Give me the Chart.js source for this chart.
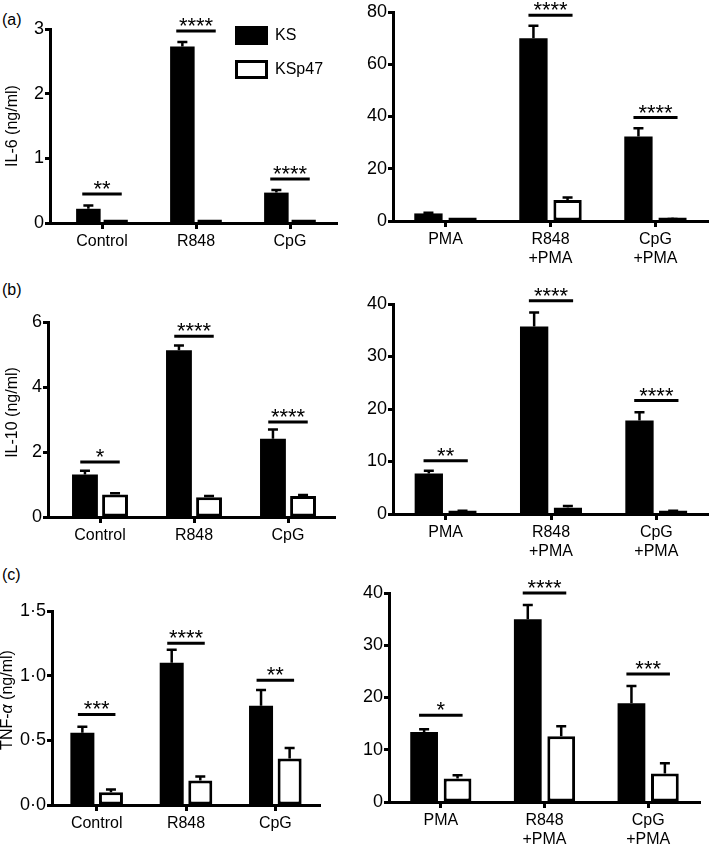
<!DOCTYPE html>
<html>
<head>
<meta charset="utf-8">
<script src="https://cdn.jsdelivr.net/npm/chart.js@4.4.1/dist/chart.umd.min.js"></script>
<style>
  html, body { margin: 0; padding: 0; background: #fff; overflow: hidden; }
  #fig { position: relative; width: 709px; height: 849px; overflow: hidden; }
  #fig canvas { position: absolute; }
  .tag { position: absolute; left: 2px; font: 16px 'Liberation Sans', Arial, sans-serif; line-height: 16px; color: #000; }
</style>
</head>
<body>
<div id="fig">
  <div class="tag" style="top:12px">(a)</div>
  <div class="tag" style="top:282px">(b)</div>
  <div class="tag" style="top:567px">(c)</div>
  <canvas id="il6Left"></canvas>
  <canvas id="il6Right"></canvas>
  <canvas id="il10Left"></canvas>
  <canvas id="il10Right"></canvas>
  <canvas id="tnfLeft"></canvas>
  <canvas id="tnfRight"></canvas>
</div>
<script>
// groups and categories
const groups = ['KS', 'KSp47'];
const stimLabels = ['Control', 'R848', 'CpG'];
const pmaLabels = ['PMA', ['R848', '+PMA'], ['CpG', '+PMA']];

// IL-6 (ng/ml)
const il6LeftKS = [0.22, 2.73, 0.47];
const il6LeftKSErr = [0.05, 0.07, 0.04];
const il6LeftP47 = [0.02, 0.02, 0.02];
const il6LeftP47Err = [0, 0, 0];
const il6LeftTicks = [0, 1, 2, 3];
const il6LeftSig = ['**', '****', '****'];
const il6LeftSigAt = [0.45, 2.97, 0.68];

const il6RightKS = [2.9, 70, 32.3];
const il6RightKSErr = [0.3, 4.7, 3.2];
const il6RightP47 = [0.4, 8, 0.6];
const il6RightP47Err = [0, 1.0, 0.2];
const il6RightTicks = [0, 20, 40, 60, 80];
const il6RightSig = ['', '****', '****'];
const il6RightSigAt = [0, 78.8, 39.6];

// IL-10 (ng/ml)
const il10LeftKS = [1.31, 5.13, 2.41];
const il10LeftKSErr = [0.11, 0.15, 0.28];
const il10LeftP47 = [0.69, 0.61, 0.65];
const il10LeftP47Err = [0.04, 0.04, 0.03];
const il10LeftTicks = [0, 2, 4, 6];
const il10LeftSig = ['*', '****', '****'];
const il10LeftSigAt = [1.69, 5.56, 2.92];

const il10RightKS = [7.7, 35.7, 17.8];
const il10RightKSErr = [0.55, 2.7, 1.6];
const il10RightP47 = [0.5, 1.26, 0.5];
const il10RightP47Err = [0.1, 0.25, 0.1];
const il10RightTicks = [0, 10, 20, 30, 40];
const il10RightSig = ['**', '****', '****'];
const il10RightSigAt = [10.15, 40.6, 21.6];

// TNF-alpha (ng/ml)
const tnfLeftKS = [0.558, 1.10, 0.767];
const tnfLeftKSErr = [0.047, 0.10, 0.123];
const tnfLeftP47 = [0.098, 0.19, 0.36];
const tnfLeftP47Err = [0.022, 0.03, 0.08];
const tnfLeftTicks = [0, 0.5, 1, 1.5];
const tnfLeftTickLabels = ['0·0', '0·5', '1·0', '1·5'];
const tnfLeftSig = ['***', '****', '**'];
const tnfLeftSigAt = [0.70, 1.25, 0.965];

const tnfRightKS = [13.4, 35.0, 18.9];
const tnfRightKSErr = [0.5, 2.7, 3.3];
const tnfRightP47 = [4.5, 12.6, 5.45];
const tnfRightP47Err = [0.6, 1.9, 1.95];
const tnfRightTicks = [0, 10, 20, 30, 40];
const tnfRightSig = ['*', '****', '***'];
const tnfRightSigAt = [16.6, 40, 24.5];

const FONT = '"Liberation Sans", Arial, sans-serif';
Chart.defaults.font.family = FONT;
Chart.defaults.font.size = 16;
Chart.defaults.color = '#000';

// Prism leaves a small gap between the y axis and the first group
const axisGap = {
    id: 'axisGap',
    afterLayout(chart, args, opts) {
        const g = opts.gap || 0;
        if (!g) return;
        const x = chart.scales.x;
        x._startPixel += g;
        x._length -= g;
    }
};

// SEM whiskers, upward only
const errorBars = {
    id: 'errorBars',
    afterDatasetsDraw(chart) {
        const ctx = chart.ctx, y = chart.scales.y;
        ctx.save();
        ctx.strokeStyle = '#000';
        ctx.lineWidth = 2.5;
        chart.data.datasets.forEach((ds, i) => {
            chart.getDatasetMeta(i).data.forEach((bar, j) => {
                const err = ds.errors[j];
                if (!err) return;
                const top = y.getPixelForValue(ds.data[j] + err);
                ctx.beginPath();
                ctx.moveTo(bar.x, bar.y);
                ctx.lineTo(bar.x, top);
                ctx.moveTo(bar.x - 5, top);
                ctx.lineTo(bar.x + 5, top);
                ctx.stroke();
            });
        });
        ctx.restore();
    }
};

// significance lines with stars
const sigBars = {
    id: 'sigBars',
    afterDatasetsDraw(chart, args, opts) {
        const ctx = chart.ctx, x = chart.scales.x, y = chart.scales.y;
        const half = Math.abs(x.getPixelForValue(1) - x.getPixelForValue(0)) * 0.21;
        ctx.save();
        ctx.lineWidth = 3;
        ctx.strokeStyle = '#000';
        ctx.fillStyle = '#000';
        ctx.font = '22px ' + FONT;
        ctx.textAlign = 'center';
        ctx.textBaseline = 'alphabetic';
        opts.marks.forEach((m, i) => {
            if (!m) return;
            const cx = x.getPixelForValue(i);
            const ly = y.getPixelForValue(opts.levels[i]);
            ctx.beginPath();
            ctx.moveTo(cx - half, ly);
            ctx.lineTo(cx + half, ly);
            ctx.stroke();
            const d = ctx.measureText(m).actualBoundingBoxDescent;
            ctx.fillText(m, cx, ly - 5 - d);
        });
        ctx.restore();
    }
};

// rotated y title, parts may be italic
const yTitle = {
    id: 'yTitle',
    afterDraw(chart, args, opts) {
        if (!opts.parts) return;
        const {ctx, chartArea} = chart;
        ctx.save();
        ctx.translate(chartArea.left + opts.dx, (chartArea.top + chartArea.bottom) / 2 + (opts.dy || 0));
        ctx.rotate(-Math.PI / 2);
        ctx.fillStyle = '#000';
        ctx.textBaseline = 'middle';
        ctx.textAlign = 'left';
        const parts = [];
        let total = 0;
        for (let i = 0; i < opts.parts.length; i++) {
            const p = opts.parts[i];
            const font = (p.italic ? 'italic ' : '') + '16px ' + FONT;
            ctx.font = font;
            const w = ctx.measureText(p.text).width;
            parts.push({text: p.text, font, w});
            total += w;
        }
        let xx = -total / 2;
        parts.forEach(p => {
            ctx.font = p.font;
            ctx.fillText(p.text, xx, 0);
            xx += p.w;
        });
        ctx.restore();
    }
};

// big box legend
const boxLegend = {
    id: 'boxLegend',
    afterDraw(chart, args, opts) {
        if (!opts.show) return;
        const {ctx, chartArea} = chart;
        ctx.save();
        chart.data.datasets.forEach((ds, i) => {
            const x = chartArea.left + opts.x;
            const y = chartArea.top + opts.y + i * opts.step;
            ctx.fillStyle = '#000';
            ctx.fillRect(x, y, 33, 19);
            ctx.fillStyle = ds.backgroundColor;
            ctx.fillRect(x + 3, y + 3, 27, 13);
            ctx.fillStyle = '#000';
            ctx.font = '16px ' + FONT;
            ctx.textBaseline = 'middle';
            ctx.fillText(ds.label, x + 40, y + 10);
        });
        ctx.restore();
    }
};

function makePanel(p) {
    const canvas = document.getElementById(p.id);
    const padTop = 30, padRight = 8, yW = 62, xH = 52;
    const b = p.box;
    canvas.width = b.right - b.left + yW + padRight;
    canvas.height = b.bottom - b.top + padTop + xH;
    canvas.style.left = (b.left - yW) + 'px';
    canvas.style.top = (b.top - padTop) + 'px';
    const barStyle = {
        categoryPercentage: p.cat,
        barPercentage: p.bar,
        inflateAmount: 0
    };
    return new Chart(canvas, {
        type: 'bar',
        data: {
            labels: p.labels,
            datasets: [
                Object.assign({label: groups[0], data: p.ks, errors: p.ksErr,
                    backgroundColor: '#000', borderColor: '#000', borderWidth: 0}, barStyle),
                Object.assign({label: groups[1], data: p.p47, errors: p.p47Err,
                    backgroundColor: '#fff', borderColor: '#000', borderWidth: 3, borderSkipped: false,
                    minBarLength: 3.5}, barStyle)
            ]
        },
        options: {
            responsive: false,
            animation: false,
            events: [],
            layout: {
                padding: {top: padTop, right: padRight, left: 0, bottom: 0},
                autoPadding: false
            },
            scales: {
                x: {
                    grid: {offset: false, drawOnChartArea: false, tickLength: 6, tickWidth: 3, tickColor: '#000'},
                    border: {color: '#000', width: 3},
                    ticks: {color: '#000', padding: 3, autoSkip: false, maxRotation: 0, minRotation: 0},
                    afterFit: s => { s.height = xH; }
                },
                y: {
                    min: 0,
                    max: p.yTicks[p.yTicks.length - 1],
                    grid: {drawOnChartArea: false, tickLength: 5, tickWidth: 3, tickColor: '#000'},
                    border: {color: '#000', width: 3},
                    ticks: {
                        color: '#000',
                        padding: 1,
                        font: {size: 18},
                        stepSize: p.yTicks[1] - p.yTicks[0],
                        callback: (v, i) => p.yTickLabels ? p.yTickLabels[i] : v
                    },
                    afterFit: s => { s.width = yW; }
                }
            },
            plugins: {
                legend: {display: false},
                tooltip: {enabled: false},
                axisGap: {gap: p.gap || 0},
                sigBars: {marks: p.sig, levels: p.sigAt},
                yTitle: p.title || {},
                boxLegend: p.legend || {show: false}
            }
        },
        plugins: [axisGap, errorBars, sigBars, yTitle, boxLegend]
    });
}

makePanel({
    id: 'il6Left', box: {left: 50, top: 29, right: 337, bottom: 223}, gap: 5,
    labels: stimLabels, ks: il6LeftKS, ksErr: il6LeftKSErr, p47: il6LeftP47, p47Err: il6LeftP47Err,
    yTicks: il6LeftTicks, sig: il6LeftSig, sigAt: il6LeftSigAt, cat: 0.58, bar: 0.9,
    title: {parts: [{text: 'IL-6 (ng/ml)'}], dx: -37, dy: 0},
    legend: {show: true, x: 185, y: -3, step: 34}
});
makePanel({
    id: 'il6Right', box: {left: 393, top: 12, right: 708, bottom: 221},
    labels: pmaLabels, ks: il6RightKS, ksErr: il6RightKSErr, p47: il6RightP47, p47Err: il6RightP47Err,
    yTicks: il6RightTicks, sig: il6RightSig, sigAt: il6RightSigAt, cat: 0.65, bar: 0.83
});
makePanel({
    id: 'il10Left', box: {left: 48, top: 322, right: 335, bottom: 517}, gap: 5,
    labels: stimLabels, ks: il10LeftKS, ksErr: il10LeftKSErr, p47: il10LeftP47, p47Err: il10LeftP47Err,
    yTicks: il10LeftTicks, sig: il10LeftSig, sigAt: il10LeftSigAt, cat: 0.64, bar: 0.86,
    title: {parts: [{text: 'IL-10 (ng/ml)'}], dx: -35, dy: -7}
});
makePanel({
    id: 'il10Right', box: {left: 393, top: 304, right: 709, bottom: 514},
    labels: pmaLabels, ks: il10RightKS, ksErr: il10RightKSErr, p47: il10RightP47, p47Err: il10RightP47Err,
    yTicks: il10RightTicks, sig: il10RightSig, sigAt: il10RightSigAt, cat: 0.64, bar: 0.84
});
makePanel({
    id: 'tnfLeft', box: {left: 52, top: 611, right: 320, bottom: 805},
    labels: stimLabels, ks: tnfLeftKS, ksErr: tnfLeftKSErr, p47: tnfLeftP47, p47Err: tnfLeftP47Err,
    yTicks: tnfLeftTicks, yTickLabels: tnfLeftTickLabels, sig: tnfLeftSig, sigAt: tnfLeftSigAt, cat: 0.64, bar: 0.84,
    title: {parts: [{text: 'TNF-'}, {text: 'α', italic: true}, {text: ' (ng/ml)'}], dx: -44, dy: -8}
});
makePanel({
    id: 'tnfRight', box: {left: 389, top: 593, right: 700, bottom: 802},
    labels: pmaLabels, ks: tnfRightKS, ksErr: tnfRightKSErr, p47: tnfRightP47, p47Err: tnfRightP47Err,
    yTicks: tnfRightTicks, sig: tnfRightSig, sigAt: tnfRightSigAt, cat: 0.645, bar: 0.83
});
</script>
</body>
</html>
